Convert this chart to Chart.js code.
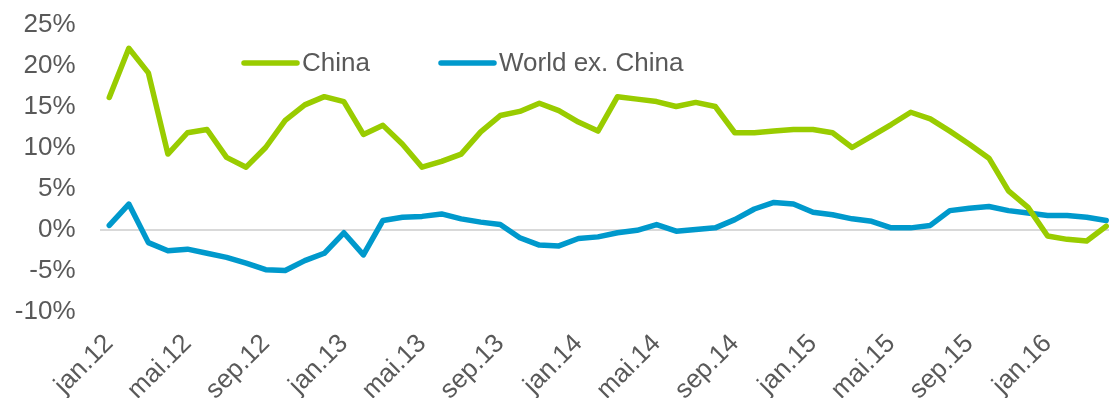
<!DOCTYPE html>
<html>
<head>
<meta charset="utf-8">
<script src="https://cdn.jsdelivr.net/npm/chart.js@4/dist/chart.umd.min.js"></script>
<style>
  html, body { margin: 0; padding: 0; background: #fff; overflow: hidden; }
  #wrap { width: 1120px; height: 398px; }
</style>
</head>
<body>
<div id="wrap"><canvas id="growthChart" width="1120" height="398"></canvas></div>
<script>
// månedlige kategorier, jan.12 - apr.16
const months = [
  'jan.12','feb.12','mar.12','apr.12','mai.12','jun.12','jul.12','aug.12','sep.12','okt.12','nov.12','des.12',
  'jan.13','feb.13','mar.13','apr.13','mai.13','jun.13','jul.13','aug.13','sep.13','okt.13','nov.13','des.13',
  'jan.14','feb.14','mar.14','apr.14','mai.14','jun.14','jul.14','aug.14','sep.14','okt.14','nov.14','des.14',
  'jan.15','feb.15','mar.15','apr.15','mai.15','jun.15','jul.15','aug.15','sep.15','okt.15','nov.15','des.15',
  'jan.16','feb.16','mar.16','apr.16'
];

// vekst i prosent, år over år
const china = [
  16.1, 22.1, 19.1, 9.2, 11.8, 12.2, 8.8, 7.6, 10.0, 13.3, 15.2, 16.2,
  15.6, 11.6, 12.7, 10.4, 7.6, 8.3, 9.2, 11.9, 13.9, 14.4, 15.4, 14.5,
  13.1, 12.0, 16.2, 15.9, 15.6, 15.0, 15.5, 15.0, 11.8, 11.8, 12.0, 12.2,
  12.2, 11.8, 10.0, 11.4, 12.8, 14.3, 13.5, 12.0, 10.4, 8.7, 4.7, 2.7,
  -0.8, -1.2, -1.4, 0.4
];
const worldExChina = [
  0.5, 3.1, -1.6, -2.6, -2.4, -2.9, -3.4, -4.1, -4.9, -5.0, -3.8, -2.9,
  -0.4, -3.1, 1.1, 1.5, 1.6, 1.9, 1.3, 0.9, 0.6, -1.0, -1.9, -2.0,
  -1.1, -0.9, -0.4, -0.1, 0.6, -0.2, 0.0, 0.2, 1.2, 2.5, 3.3, 3.1,
  2.1, 1.8, 1.3, 1.0, 0.2, 0.2, 0.5, 2.3, 2.6, 2.8, 2.3, 2.0,
  1.7, 1.7, 1.5, 1.1
];

const yTicks = [-10, -5, 0, 5, 10, 15, 20, 25];

const green = '#99CC00';
const blue = '#0099CC';
const textColor = '#595959';
const fontFamily = "'Liberation Sans', Arial, sans-serif";

// egen legende inne i plottet
const inlineLegend = {
  id: 'inlineLegend',
  afterDraw(chart) {
    const ctx = chart.ctx;
    const spots = [244, 441];
    const y = 63;
    ctx.save();
    ctx.font = '26px ' + fontFamily;
    ctx.textBaseline = 'middle';
    ctx.textAlign = 'left';
    chart.data.datasets.forEach((ds, i) => {
      const x = spots[i];
      ctx.strokeStyle = ds.borderColor;
      ctx.lineWidth = 5.5;
      ctx.lineCap = 'round';
      ctx.beginPath();
      ctx.moveTo(x, y);
      ctx.lineTo(x + 53, y);
      ctx.stroke();
      ctx.fillStyle = textColor;
      ctx.fillText(ds.label, x + 58, y + 1);
    });
    ctx.restore();
  }
};

new Chart(document.getElementById('growthChart'), {
  type: 'line',
  data: {
    labels: months,
    datasets: [{
      label: 'China',
      data: china,
      borderColor: green,
      borderWidth: 5.5,
      pointRadius: 0,
      tension: 0,
      borderJoinStyle: 'round',
      borderCapStyle: 'round'
    }, {
      label: 'World ex. China',
      data: worldExChina,
      borderColor: blue,
      borderWidth: 5.5,
      pointRadius: 0,
      tension: 0,
      borderJoinStyle: 'round',
      borderCapStyle: 'round'
    }]
  },
  options: {
    responsive: false,
    animation: false,
    layout: { autoPadding: false, padding: { top: 24.5, right: 4, left: 0, bottom: 0 } },
    plugins: { legend: { display: false }, tooltip: { enabled: false } },
    scales: {
      x: {
        offset: true,
        grid: { display: false },
        border: { display: false },
        ticks: {
          autoSkip: false,
          minRotation: 45,
          maxRotation: 45,
          padding: 9,
          color: textColor,
          font: { family: fontFamily, size: 26 },
          callback: function(v, i) { return i % 4 === 0 ? months[i] : ''; }
        },
        afterFit: function(scale) {
          scale.height = 86.5;
          scale.paddingLeft = 0;
          scale.paddingRight = 0;
        }
      },
      y: {
        min: yTicks[0],
        max: yTicks[yTicks.length - 1],
        afterBuildTicks: function(scale) { scale.ticks = yTicks.map(v => ({ value: v })); },
        grid: {
          drawTicks: false,
          lineWidth: 2,
          color: ctx => ctx.tick && ctx.tick.value === 0 ? '#D9D9D9' : 'rgba(0,0,0,0)'
        },
        border: { display: false },
        ticks: {
          padding: 24,
          color: textColor,
          font: { family: fontFamily, size: 26 },
          callback: v => v + '%'
        },
        afterFit: function(scale) {
          scale.width = 99.5;
          scale.paddingTop = 0;
          scale.paddingBottom = 0;
        }
      }
    }
  },
  plugins: [inlineLegend]
});
</script>
</body>
</html>
